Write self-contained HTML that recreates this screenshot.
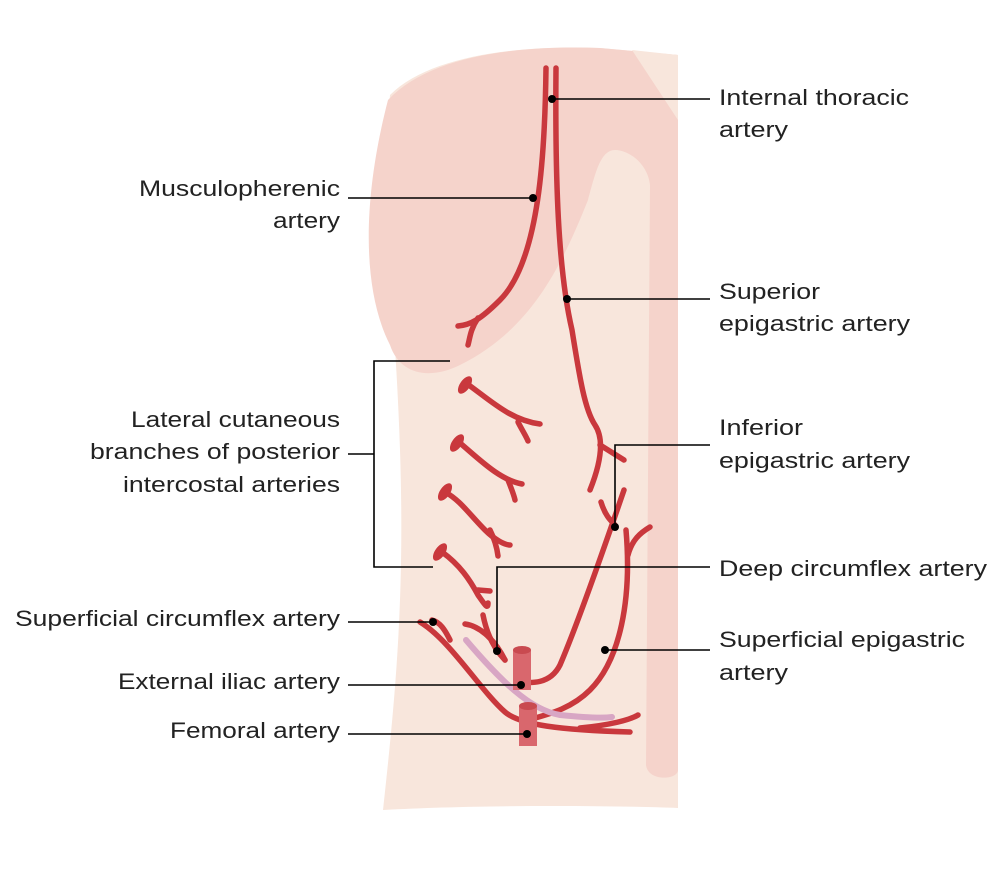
<!DOCTYPE html>
<html><head><meta charset="utf-8"><style>
body{margin:0;background:#fff}
svg{display:block}
text{font-family:"Liberation Sans",sans-serif;font-size:22.5px;fill:#222}
.a{fill:none;stroke:#c9383d;stroke-width:5.5;stroke-linecap:round}
.l{fill:none;stroke:#000;stroke-width:1.6}
</style></head><body>
<svg width="1000" height="873" viewBox="0 0 1000 873">
<path d="M390,95 C430,55 520,45 600,48 L678,55 L678,808 C600,805 470,805 383,810 C395,700 405,600 400,450 C395,300 380,200 390,95 Z" fill="#f8e6dc"/>
<path d="M388,100 C430,55 520,45 600,48 L678,55 L678,770 C678,780 648,782 646,765 L650,185 C648,165 630,150 615,150 C600,150 595,175 588,200 C560,270 530,330 460,365 C430,380 400,375 390,345 C362,290 362,200 388,100 Z" fill="#f5d3cb"/>
<path d="M632,50 L678,55 L678,120 Z" fill="#f8e6dc"/>
<g class="a">
<path d="M546,68 C545,150 540,260 500,300 C480,320 470,325 458,326"/>
<path d="M478,318 C470,330 470,338 468,345"/>
<path d="M556,68 C555,180 558,270 572,330 C580,380 585,410 595,425 C605,440 600,465 590,490"/>
<path d="M600,445 L624,460"/>
<path d="M624,490 C600,560 575,630 560,665 C550,685 530,683 520,682"/>
<path d="M601,502 C605,515 610,520 615,525"/>
<path d="M626,530 C632,600 620,660 590,690 C570,710 545,715 528,720"/>
<path d="M628,555 C632,540 640,533 650,527"/>
<path d="M420,622 C450,640 480,690 505,712 C520,725 560,730 630,732"/>
<path d="M432,620 C440,622 445,630 450,640"/>
<path d="M580,728 C610,725 630,720 638,715"/>
<path d="M465,624 C480,626 495,640 505,660"/>
<path d="M483,615 C487,635 495,650 505,660"/>
<path d="M466,383 C490,400 510,420 540,424"/>
<path d="M518,422 C522,430 526,436 528,441"/>
<path d="M460,443 C480,460 500,480 522,484"/>
<path d="M508,480 C512,490 514,495 515,500"/>
<path d="M445,492 C460,500 470,515 485,530 C495,540 505,545 510,545"/>
<path d="M490,530 C495,540 497,548 498,556"/>
<path d="M442,552 C460,565 470,580 478,595 C485,605 488,610 488,603"/>
<path d="M478,590 L490,591"/>
</g>
<g fill="#c9383d"><ellipse cx="465" cy="385" rx="5" ry="10" transform="rotate(35 465 385)"/><ellipse cx="457" cy="443" rx="5" ry="10" transform="rotate(35 457 443)"/><ellipse cx="445" cy="492" rx="5" ry="10" transform="rotate(35 445 492)"/><ellipse cx="440" cy="552" rx="5" ry="10" transform="rotate(35 440 552)"/></g>
<path d="M466,640 C500,680 530,710 560,715 C590,718 605,718 612,717" fill="none" stroke="#d8a6c4" stroke-width="6" stroke-linecap="round"/>
<rect x="513" y="650" width="18" height="40" fill="#d9676d"/><ellipse cx="522" cy="650" rx="9" ry="4" fill="#c94a50"/>
<rect x="519" y="706" width="18" height="40" fill="#d9676d"/><ellipse cx="528" cy="706" rx="9" ry="4" fill="#c94a50"/>
<g class="l">
<path d="M552,99 H710"/><path d="M348,198 H533"/><path d="M567,299 H710"/>
<path d="M450,361 H374 V567 H433"/><path d="M348,454 H374"/>
<path d="M615,527 V445 H710"/><path d="M497,651 V567 H710"/>
<path d="M348,622 H433"/><path d="M605,650 H710"/>
<path d="M348,685 H521"/><path d="M348,734 H527"/>
</g>
<g fill="#000"><circle cx="552" cy="99" r="4"/><circle cx="533" cy="198" r="4"/><circle cx="567" cy="299" r="4"/><circle cx="615" cy="527" r="4"/><circle cx="497" cy="651" r="4"/><circle cx="433" cy="622" r="4"/><circle cx="605" cy="650" r="4"/><circle cx="521" cy="685" r="4"/><circle cx="527" cy="734" r="4"/></g>
<g lengthAdjust="spacingAndGlyphs">
<text lengthAdjust="spacingAndGlyphs" x="719" y="105" textLength="190">Internal thoracic</text><text lengthAdjust="spacingAndGlyphs" x="719" y="137" textLength="69">artery</text>
<text lengthAdjust="spacingAndGlyphs" x="139" y="196" textLength="201">Musculopherenic</text><text lengthAdjust="spacingAndGlyphs" x="273" y="228" textLength="67">artery</text>
<text lengthAdjust="spacingAndGlyphs" x="719" y="299" textLength="101">Superior</text><text lengthAdjust="spacingAndGlyphs" x="719" y="331" textLength="191">epigastric artery</text>
<text lengthAdjust="spacingAndGlyphs" x="131" y="427" textLength="209">Lateral cutaneous</text><text lengthAdjust="spacingAndGlyphs" x="90" y="459" textLength="250">branches of posterior</text><text lengthAdjust="spacingAndGlyphs" x="123" y="492" textLength="217">intercostal arteries</text>
<text lengthAdjust="spacingAndGlyphs" x="719" y="435" textLength="84">Inferior</text><text lengthAdjust="spacingAndGlyphs" x="719" y="468" textLength="191">epigastric artery</text>
<text lengthAdjust="spacingAndGlyphs" x="719" y="576" textLength="268">Deep circumflex artery</text>
<text lengthAdjust="spacingAndGlyphs" x="15" y="626" textLength="325">Superficial circumflex artery</text>
<text lengthAdjust="spacingAndGlyphs" x="719" y="647" textLength="246">Superficial epigastric</text><text lengthAdjust="spacingAndGlyphs" x="719" y="680" textLength="69">artery</text>
<text lengthAdjust="spacingAndGlyphs" x="118" y="689" textLength="222">External iliac artery</text>
<text lengthAdjust="spacingAndGlyphs" x="170" y="738" textLength="170">Femoral artery</text>
</g>
</svg>
</body></html>
